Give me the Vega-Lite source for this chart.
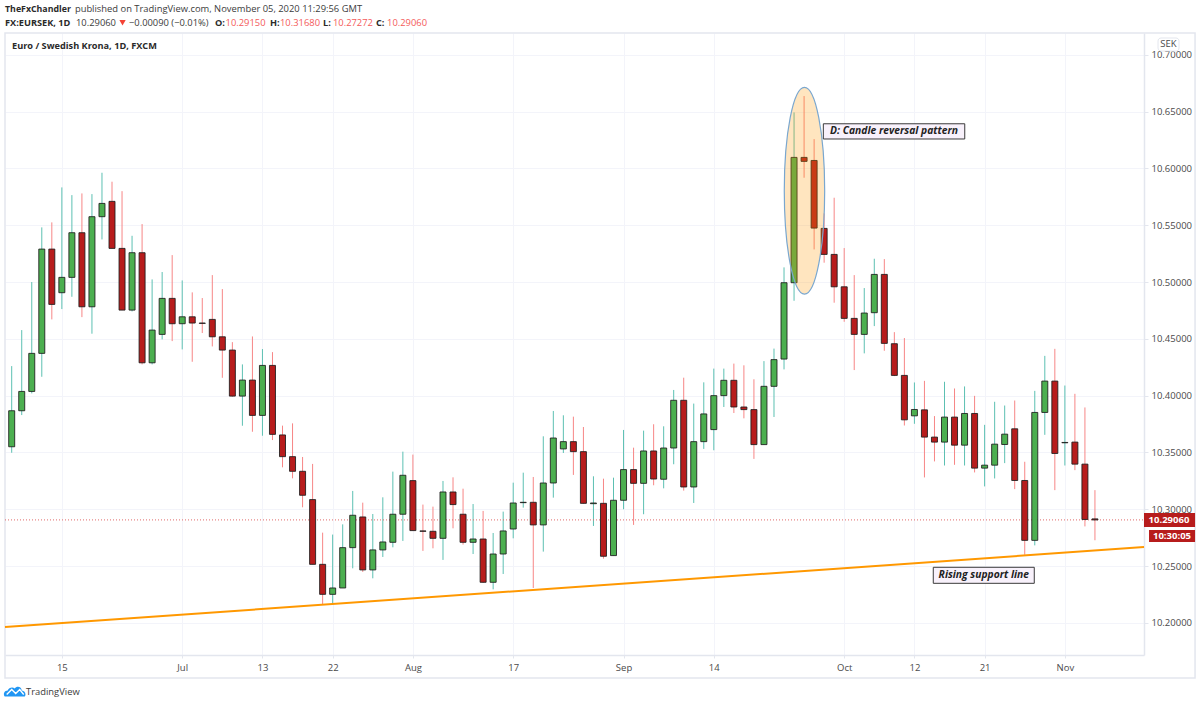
{"$schema":"https://vega.github.io/schema/vega-lite/v6.json","width":1139,"height":622,"autosize":{"type":"none"},"padding":{"left":5,"top":33,"right":56,"bottom":51},"background":"#ffffff","config":{"view":{"stroke":null},"text":{"font":"Open Sans"},"axis":{"labelFont":"Open Sans"}},
"datasets":{"candles":[
{"i":0,"o":10.355,"h":10.426,"l":10.3497,"c":10.3867},
{"i":1,"o":10.3867,"h":10.4577,"l":10.3829,"c":10.4037},
{"i":2,"o":10.4037,"h":10.5,"l":10.402,"c":10.4372},
{"i":3,"o":10.4372,"h":10.5481,"l":10.4166,"c":10.529},
{"i":4,"o":10.529,"h":10.5525,"l":10.4671,"c":10.4803},
{"i":5,"o":10.4906,"h":10.5833,"l":10.4762,"c":10.5041},
{"i":6,"o":10.5041,"h":10.5765,"l":10.487,"c":10.5434},
{"i":7,"o":10.5434,"h":10.578,"l":10.4691,"c":10.4782},
{"i":8,"o":10.4782,"h":10.5774,"l":10.4545,"c":10.5575},
{"i":9,"o":10.5575,"h":10.5962,"l":10.5375,"c":10.5692},
{"i":10,"o":10.571,"h":10.5883,"l":10.5296,"c":10.5296},
{"i":11,"o":10.5296,"h":10.58,"l":10.4753,"c":10.4753},
{"i":12,"o":10.4753,"h":10.5407,"l":10.4741,"c":10.5258},
{"i":13,"o":10.5258,"h":10.551,"l":10.4275,"c":10.4289},
{"i":14,"o":10.4289,"h":10.5023,"l":10.4275,"c":10.4577},
{"i":15,"o":10.4539,"h":10.5088,"l":10.4495,"c":10.4856},
{"i":16,"o":10.4856,"h":10.5237,"l":10.448,"c":10.4633},
{"i":17,"o":10.4633,"h":10.5014,"l":10.4407,"c":10.4694},
{"i":18,"o":10.4694,"h":10.4909,"l":10.4298,"c":10.4639},
{"i":19,"o":10.4639,"h":10.4859,"l":10.4551,"c":10.4636},
{"i":20,"o":10.4671,"h":10.5061,"l":10.4433,"c":10.4518},
{"i":21,"o":10.4518,"h":10.4938,"l":10.4157,"c":10.4401},
{"i":22,"o":10.4401,"h":10.4471,"l":10.399,"c":10.3996},
{"i":23,"o":10.3996,"h":10.4275,"l":10.3735,"c":10.4137},
{"i":24,"o":10.4137,"h":10.4521,"l":10.3682,"c":10.3826},
{"i":25,"o":10.3826,"h":10.441,"l":10.3647,"c":10.4266},
{"i":26,"o":10.4266,"h":10.4383,"l":10.3609,"c":10.3659},
{"i":27,"o":10.3654,"h":10.3736,"l":10.3369,"c":10.3463},
{"i":28,"o":10.3463,"h":10.3756,"l":10.3272,"c":10.3334},
{"i":29,"o":10.3334,"h":10.346,"l":10.3017,"c":10.3123},
{"i":30,"o":10.3085,"h":10.3399,"l":10.2515,"c":10.2515},
{"i":31,"o":10.2515,"h":10.2794,"l":10.216,"c":10.2251},
{"i":32,"o":10.2251,"h":10.2777,"l":10.2166,"c":10.2307},
{"i":33,"o":10.2307,"h":10.2867,"l":10.2307,"c":10.2662},
{"i":34,"o":10.2662,"h":10.3161,"l":10.248,"c":10.2947},
{"i":35,"o":10.2932,"h":10.3058,"l":10.2448,"c":10.2466},
{"i":36,"o":10.2466,"h":10.2958,"l":10.2392,"c":10.2642},
{"i":37,"o":10.2642,"h":10.3105,"l":10.258,"c":10.2712},
{"i":38,"o":10.2709,"h":10.3331,"l":10.2665,"c":10.2956},
{"i":39,"o":10.2956,"h":10.3507,"l":10.2721,"c":10.3299},
{"i":40,"o":10.3252,"h":10.3481,"l":10.2812,"c":10.2812},
{"i":41,"o":10.2809,"h":10.3041,"l":10.2633,"c":10.2806},
{"i":42,"o":10.2806,"h":10.3023,"l":10.2656,"c":10.2744},
{"i":43,"o":10.2744,"h":10.3249,"l":10.2554,"c":10.3152},
{"i":44,"o":10.3152,"h":10.3281,"l":10.2832,"c":10.3041},
{"i":45,"o":10.2956,"h":10.3181,"l":10.2689,"c":10.2709},
{"i":46,"o":10.2709,"h":10.3046,"l":10.2606,"c":10.2738},
{"i":47,"o":10.2738,"h":10.2985,"l":10.2351,"c":10.2357},
{"i":48,"o":10.2357,"h":10.2791,"l":10.2295,"c":10.2606},
{"i":49,"o":10.2606,"h":10.2979,"l":10.243,"c":10.2809},
{"i":50,"o":10.2826,"h":10.3234,"l":10.2744,"c":10.3055},
{"i":51,"o":10.3058,"h":10.3322,"l":10.3014,"c":10.3061},
{"i":52,"o":10.3061,"h":10.3284,"l":10.2307,"c":10.2862},
{"i":53,"o":10.2862,"h":10.3642,"l":10.2627,"c":10.3231},
{"i":54,"o":10.3231,"h":10.3865,"l":10.3102,"c":10.3627},
{"i":55,"o":10.3531,"h":10.3827,"l":10.3495,"c":10.3595},
{"i":56,"o":10.3595,"h":10.3815,"l":10.3302,"c":10.3507},
{"i":57,"o":10.3507,"h":10.3724,"l":10.3049,"c":10.3052},
{"i":58,"o":10.3049,"h":10.329,"l":10.2853,"c":10.3055},
{"i":59,"o":10.3052,"h":10.3269,"l":10.2565,"c":10.2586},
{"i":60,"o":10.2592,"h":10.3278,"l":10.2592,"c":10.3079},
{"i":61,"o":10.3079,"h":10.3698,"l":10.3,"c":10.3349},
{"i":62,"o":10.3349,"h":10.3542,"l":10.2862,"c":10.3228},
{"i":63,"o":10.3228,"h":10.3692,"l":10.2956,"c":10.3513},
{"i":64,"o":10.3513,"h":10.3748,"l":10.3211,"c":10.3266},
{"i":65,"o":10.3264,"h":10.373,"l":10.3184,"c":10.3539},
{"i":66,"o":10.3539,"h":10.405,"l":10.3396,"c":10.3959},
{"i":67,"o":10.3959,"h":10.4158,"l":10.3164,"c":10.3196},
{"i":68,"o":10.3196,"h":10.393,"l":10.3055,"c":10.3595},
{"i":69,"o":10.3595,"h":10.4117,"l":10.3531,"c":10.3839},
{"i":70,"o":10.3701,"h":10.4238,"l":10.3519,"c":10.4},
{"i":71,"o":10.4,"h":10.4238,"l":10.39,"c":10.4135},
{"i":72,"o":10.4135,"h":10.4282,"l":10.3847,"c":10.39},
{"i":73,"o":10.39,"h":10.4267,"l":10.38,"c":10.3877},
{"i":74,"o":10.3877,"h":10.4144,"l":10.3443,"c":10.3569},
{"i":75,"o":10.3569,"h":10.4304,"l":10.3569,"c":10.4082},
{"i":76,"o":10.4082,"h":10.4414,"l":10.3812,"c":10.4317},
{"i":77,"o":10.4322,"h":10.5129,"l":10.4231,"c":10.4994},
{"i":78,"o":10.4994,"h":10.6493,"l":10.4835,"c":10.6097},
{"i":79,"o":10.6097,"h":10.6637,"l":10.5918,"c":10.6062},
{"i":80,"o":10.607,"h":10.6258,"l":10.5287,"c":10.5475},
{"i":81,"o":10.5472,"h":10.5604,"l":10.517,"c":10.5243},
{"i":82,"o":10.5243,"h":10.5742,"l":10.4818,"c":10.4958},
{"i":83,"o":10.4958,"h":10.5299,"l":10.465,"c":10.468},
{"i":84,"o":10.468,"h":10.5061,"l":10.4225,"c":10.4539},
{"i":85,"o":10.4539,"h":10.4947,"l":10.4372,"c":10.4727},
{"i":86,"o":10.473,"h":10.5205,"l":10.4612,"c":10.5067},
{"i":87,"o":10.5067,"h":10.5202,"l":10.4395,"c":10.446},
{"i":88,"o":10.4457,"h":10.4559,"l":10.4172,"c":10.4178},
{"i":89,"o":10.4178,"h":10.4507,"l":10.3737,"c":10.3787},
{"i":90,"o":10.3822,"h":10.4116,"l":10.3752,"c":10.3878},
{"i":91,"o":10.3875,"h":10.413,"l":10.328,"c":10.3635},
{"i":92,"o":10.3635,"h":10.382,"l":10.3421,"c":10.3591},
{"i":93,"o":10.3591,"h":10.4122,"l":10.3385,"c":10.3811},
{"i":94,"o":10.3811,"h":10.4063,"l":10.3391,"c":10.3564},
{"i":95,"o":10.3564,"h":10.4081,"l":10.3385,"c":10.3843},
{"i":96,"o":10.3843,"h":10.3998,"l":10.3324,"c":10.3362},
{"i":97,"o":10.3362,"h":10.3743,"l":10.3201,"c":10.3388},
{"i":98,"o":10.3388,"h":10.3946,"l":10.3271,"c":10.3573},
{"i":99,"o":10.357,"h":10.3913,"l":10.3406,"c":10.3661},
{"i":100,"o":10.3708,"h":10.3957,"l":10.3177,"c":10.3253},
{"i":101,"o":10.3253,"h":10.3418,"l":10.2599,"c":10.2726},
{"i":102,"o":10.2726,"h":10.4042,"l":10.2682,"c":10.3852},
{"i":103,"o":10.3852,"h":10.435,"l":10.3655,"c":10.4128},
{"i":104,"o":10.4128,"h":10.4412,"l":10.3168,"c":10.3491},
{"i":105,"o":10.3585,"h":10.4089,"l":10.3385,"c":10.3588},
{"i":106,"o":10.3591,"h":10.4016,"l":10.3344,"c":10.3397},
{"i":107,"o":10.3397,"h":10.3896,"l":10.2849,"c":10.291},
{"i":108,"o":10.2915,"h":10.3168,"l":10.2727,"c":10.2906}
]},
"layer":[
{"data":{"values":[{"i":-0.668,"top":10.7192,"bottom":10.1514,"i2":117.98}]},"mark":{"type":"rect","fill":null,"stroke":"#e3e6ee","strokeWidth":1.5,"clip":false},
"encoding":{
"x":{"field":"i","type":"quantitative","title":null,"scale":{"domain":[-0.668,112.89],"nice":false,"zero":false,"padding":0},"axis":{"values":[5,17,25,32,40,50,61,70,83,90,97,105],"labelExpr":"['15','Jul','13','22','Aug','17','Sep','14','Oct','12','21','Nov'][indexof([5,17,25,32,40,50,61,70,83,90,97,105],datum.value)]","grid":true,"gridColor":"#f3f4fa","gridWidth":1,"domainColor":"#e3e6ee","domainWidth":1.5,"tickColor":"#e3e6ee","tickSize":3,"labelColor":"#4a4a4a","labelFontSize":9.5,"labelPadding":4,"labelFlush":false,"labelOverlap":false,"title":null}},
"x2":{"field":"i2"},
"y":{"field":"top","type":"quantitative","title":null,"scale":{"domain":[10.1717,10.7192],"nice":false,"zero":false,"padding":0},"axis":{"orient":"right","values":[10.2,10.25,10.3,10.35,10.4,10.45,10.5,10.55,10.6,10.65,10.7],"format":".5f","grid":true,"gridColor":"#f3f4fa","gridWidth":1,"domainColor":"#e3e6ee","domainWidth":1.5,"tickColor":"#e3e6ee","tickSize":4,"labelColor":"#4a4a4a","labelFontSize":9.5,"labelPadding":3,"labelOverlap":false,"title":null}},
"y2":{"field":"bottom"}}},
{"data":{"name":"candles"},"mark":{"type":"rule","strokeWidth":1},
"encoding":{"x":{"field":"i","type":"quantitative"},"y":{"field":"h","type":"quantitative"},"y2":{"field":"l"},"color":{"condition":{"test":"datum.c>=datum.o","value":"#5cc0b2"},"value":"#f78686"}}},
{"data":{"values":[{"price":10.2906,"a":-0.668,"b":112.89}]},"mark":{"type":"rule","stroke":"#e06a6a","strokeWidth":1,"strokeDash":[1,2]},
"encoding":{"x":{"field":"a","type":"quantitative"},"x2":{"field":"b"},"y":{"field":"price","type":"quantitative"}}},
{"data":{"name":"candles"},"mark":{"type":"bar","width":6,"stroke":"#1c1c1c","strokeWidth":1,"strokeOpacity":0.85},
"encoding":{"x":{"field":"i","type":"quantitative"},"y":{"field":"o","type":"quantitative"},"y2":{"field":"c"},"fill":{"condition":{"test":"datum.c>=datum.o","value":"#4caf50"},"value":"#b71c1c"}}},
{"data":{"values":[{"i":-0.668,"v":10.1963},{"i":112.89,"v":10.2667}]},"mark":{"type":"line","stroke":"#ff9800","strokeWidth":2},
"encoding":{"x":{"field":"i","type":"quantitative"},"y":{"field":"v","type":"quantitative"}}},
{"data":{"values":[{"i":79.04,"v":10.5804}]},"mark":{"type":"point","shape":"M-20.2,0A20.2,103.4 0 1 0 20.2,0A20.2,103.4 0 1 0 -20.2,0Z","size":4,"filled":true,"fill":"#ff9800","fillOpacity":0.25,"stroke":"#7aa7cf","strokeWidth":1.2,"strokeOpacity":1,"opacity":1},
"encoding":{"x":{"field":"i","type":"quantitative"},"y":{"field":"v","type":"quantitative"}}},
{"data":{"values":[{"i":80.92,"i2":95.02,"t":10.6393,"b":10.6259},{"i":91.88,"i2":101.95,"t":10.2489,"b":10.2348}]},"mark":{"type":"rect","fill":"#f8f1fb","stroke":"#3a3a3a","strokeWidth":1,"clip":false},
"encoding":{"x":{"field":"i","type":"quantitative"},"x2":{"field":"i2"},"y":{"field":"t","type":"quantitative"},"y2":{"field":"b"}}},
{"data":{"values":[{"i":87.97,"v":10.6327,"label":"D: Candle reversal pattern"},{"i":96.92,"v":10.2418,"label":"Rising support line"}]},"mark":{"type":"text","font":"Open Sans","fontSize":10.3,"fontStyle":"italic","fontWeight":"bold","color":"#222222","align":"center","baseline":"middle"},
"encoding":{"x":{"field":"i","type":"quantitative"},"y":{"field":"v","type":"quantitative"},"text":{"field":"label"}}},
{"data":{"values":[{"i":112.89,"i2":117.98,"t":10.2967,"b":10.2843},{"i":113.39,"i2":117.98,"t":10.2817,"b":10.2711}]},"mark":{"type":"rect","fill":"#b71c1c","clip":false},
"encoding":{"x":{"field":"i","type":"quantitative"},"x2":{"field":"i2"},"y":{"field":"t","type":"quantitative"},"y2":{"field":"b"}}},
{"data":{"values":[{"i":115.38,"v":10.2905,"label":"10.29060"},{"i":115.68,"v":10.2764,"label":"10:30:05"}]},"mark":{"type":"text","font":"Open Sans","fontSize":9.5,"fontWeight":"bold","color":"#ffffff","align":"center","baseline":"middle"},
"encoding":{"x":{"field":"i","type":"quantitative"},"y":{"field":"v","type":"quantitative"},"text":{"field":"label"}}},
{"data":{"values":[{"i":114.29,"i2":116.38,"t":10.7148,"b":10.7033}]},"mark":{"type":"rect","fill":"#ffffff","stroke":"#e3e6ee","strokeWidth":1,"cornerRadius":3,"clip":false},
"encoding":{"x":{"field":"i","type":"quantitative"},"x2":{"field":"i2"},"y":{"field":"t","type":"quantitative"},"y2":{"field":"b"}}},
{"data":{"values":[{"i":115.33,"v":10.7091,"label":"SEK"}]},"mark":{"type":"text","font":"Open Sans","fontSize":9.5,"color":"#4a4a4a","align":"center","baseline":"middle"},
"encoding":{"x":{"field":"i","type":"quantitative"},"y":{"field":"v","type":"quantitative"},"text":{"field":"label"}}},
{"data":{"values":[{"i":-0.668,"v":10.7283,"label":"FX:EURSEK, 1D"},{"i":20.27,"v":10.7283,"label":"O:"},{"i":25.75,"v":10.7283,"label":"H:"},{"i":31.04,"v":10.7283,"label":"L:"},{"i":36.32,"v":10.7283,"label":"C:"},{"i":0.03,"v":10.7077,"label":"Euro / Swedish Krona, 1D, FXCM"}]},"mark":{"type":"text","font":"Open Sans","fontSize":9.2,"fontWeight":"bold","color":"#2a2a2a","align":"left","baseline":"middle"},
"encoding":{"x":{"field":"i","type":"quantitative"},"y":{"field":"v","type":"quantitative"},"text":{"field":"label"}}},
{"data":{"values":[{"i":-0.668,"v":10.7399,"label":"TheFxChandler"}]},"mark":{"type":"text","font":"Open Sans","fontSize":8.8,"fontWeight":"bold","color":"#2a2a2a","align":"left","baseline":"middle"},
"encoding":{"x":{"field":"i","type":"quantitative"},"y":{"field":"v","type":"quantitative"},"text":{"field":"label"}}},
{"data":{"values":[{"i":6.3,"v":10.7399,"label":"published on TradingView.com, November 05, 2020 11:29:56 GMT"},{"i":6.41,"v":10.7283,"label":"10.29060"},{"i":11.69,"v":10.7283,"label":"−0.00090 (−0.01%)"},{"i":1.43,"v":10.1391,"label":"TradingView"}]},"mark":{"type":"text","font":"Open Sans","fontSize":9.4,"color":"#3c3c3c","align":"left","baseline":"middle"},
"encoding":{"x":{"field":"i","type":"quantitative"},"y":{"field":"v","type":"quantitative"},"text":{"field":"label"}}},
{"data":{"values":[{"i":21.32,"v":10.7283,"label":"10.29150"},{"i":26.75,"v":10.7283,"label":"10.31680"},{"i":32.03,"v":10.7283,"label":"10.27272"},{"i":37.42,"v":10.7283,"label":"10.29060"}]},"mark":{"type":"text","font":"Open Sans","fontSize":9.4,"color":"#f45b5b","align":"left","baseline":"middle"},
"encoding":{"x":{"field":"i","type":"quantitative"},"y":{"field":"v","type":"quantitative"},"text":{"field":"label"}}},
{"data":{"values":[{"i":11.05,"v":10.7283}]},"mark":{"type":"point","shape":"triangle-down","size":40,"filled":true,"fill":"#f44336","opacity":1},
"encoding":{"x":{"field":"i","type":"quantitative"},"y":{"field":"v","type":"quantitative"}}},
{"data":{"values":[{"i":0.3,"v":10.1396}]},"mark":{"type":"point","shape":"M-10,5C-12,2 -10,-1 -7,-1C-6,-4 -2,-5 0,-3C2,-6 7,-5 7,-1C10,-1 12,3 10,5Z","size":4,"filled":true,"fill":"#2196f3","opacity":1},
"encoding":{"x":{"field":"i","type":"quantitative"},"y":{"field":"v","type":"quantitative"}}},
{"data":{"values":[{"i":0.3,"v":10.1396}]},"mark":{"type":"point","shape":"M-8,3L-3,-2L1,2L5,-2L9,3","size":4,"filled":false,"stroke":"#ffffff","strokeWidth":1.4,"opacity":1},
"encoding":{"x":{"field":"i","type":"quantitative"},"y":{"field":"v","type":"quantitative"}}}
]}
